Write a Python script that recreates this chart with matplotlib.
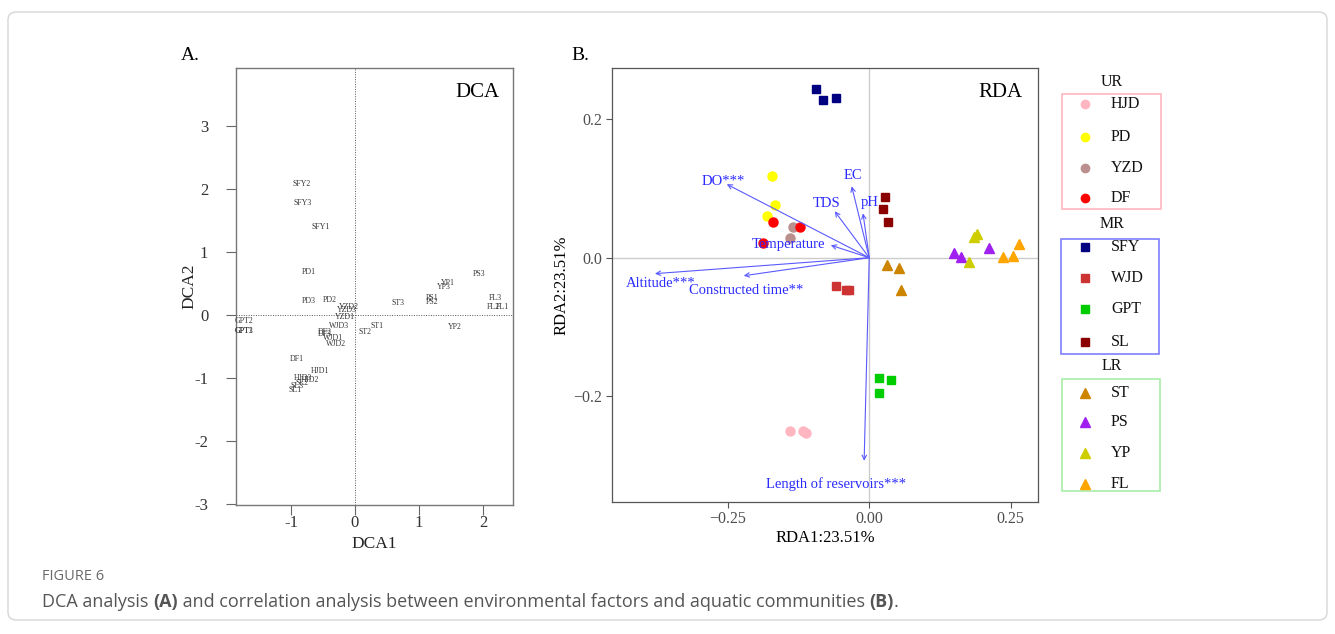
import matplotlib
matplotlib.use('Agg')
import matplotlib.pyplot as plt
from matplotlib.patches import Rectangle, FancyBboxPatch

plt.rcParams['font.family'] = ['Liberation Serif', 'DejaVu Serif']

# ---------------- DATA ----------------
# DCA sample scores
dca_samples = ['SFY1', 'SFY2', 'SFY3', 'PD1', 'PD2', 'PD3', 'YZD1', 'YZD2', 'YZD3',
               'GPT1', 'GPT2', 'GPT3', 'WJD1', 'WJD2', 'WJD3', 'DF1', 'DF2', 'DF3',
               'HJD1', 'HJD2', 'HJD3', 'SL1', 'SL2', 'SL3',
               'ST1', 'ST2', 'ST3', 'PS1', 'PS2', 'PS3', 'YP1', 'YP2', 'YP3', 'FL1', 'FL2', 'FL3']
dca1 = [-0.53, -0.83, -0.82, -0.72, -0.39, -0.72, -0.16, -0.10, -0.13,
        -1.74, -1.74, -1.73, -0.34, -0.30, -0.245, -0.91, -0.48, -0.47,
        -0.54, -0.70, -0.81, -0.94, -0.83, -0.91,
        0.34, 0.16, 0.67, 1.20, 1.20, 1.94, 1.45, 1.56, 1.39, 2.31, 2.16, 2.19]
dca2 = [1.39, 2.08, 1.78, 0.68, 0.24, 0.22, -0.03, 0.13, 0.07,
        -0.26, -0.10, -0.25, -0.37, -0.465, -0.185, -0.70, -0.28, -0.30,
        -0.89, -1.04, -1.00, -1.20, -1.08, -1.13,
        -0.17, -0.27, 0.19, 0.27, 0.21, 0.65, 0.51, -0.19, 0.44, 0.13, 0.13, 0.27]

# RDA site scores (replicates per reservoir)
rda_sites = ['HJD', 'PD', 'YZD', 'DF', 'SFY', 'WJD', 'GPT', 'SL', 'ST', 'PS', 'YP', 'FL']
rda_region = ['UR', 'UR', 'UR', 'UR', 'MR', 'MR', 'MR', 'MR', 'LR', 'LR', 'LR', 'LR']
rda1 = [[-0.140, -0.117, -0.112], [-0.172, -0.167, -0.181], [-0.135, -0.140],
        [-0.170, -0.123, -0.188], [-0.094, -0.082, -0.059], [-0.059, -0.041, -0.036],
        [0.017, 0.038, 0.017], [0.028, 0.024, 0.033], [0.031, 0.052, 0.056],
        [0.150, 0.163, 0.212], [0.190, 0.186, 0.177], [0.236, 0.255, 0.265]]
rda2 = [[-0.250, -0.250, -0.253], [0.118, 0.076, 0.060], [0.045, 0.029],
        [0.051, 0.045, 0.021], [0.243, 0.227, 0.230], [-0.041, -0.046, -0.047],
        [-0.173, -0.176, -0.195], [0.087, 0.071, 0.052], [-0.010, -0.015, -0.046],
        [0.007, 0.001, 0.014], [0.034, 0.030, -0.006], [0.001, 0.002, 0.020]]
site_colors = ['#FFB6C1', '#FFFF00', '#BC8F8F', '#FF0000', '#000080', '#CD3333',
               '#00CD00', '#8B0000', '#CD8500', '#A020F0', '#CDCD00', '#FFA500']
region_markers = {'UR': 'o', 'MR': 's', 'LR': '^'}
region_box_colors = {'UR': '#FFB6C1', 'MR': '#7F7FFF', 'LR': '#A8EEA8'}

# Environmental factor vectors
env_names = ['DO***', 'EC', 'TDS', 'pH', 'Temperature', 'Altitude***',
             'Constructed time**', 'Length of reservoirs***']
env_rda1 = [-0.252, -0.031, -0.061, -0.011, -0.068, -0.379, -0.222, -0.009]
env_rda2 = [0.106, 0.103, 0.067, 0.064, 0.018, -0.023, -0.026, -0.293]
# label anchor positions (layout)
env_lab_x = [-0.259, -0.029, -0.075, 0.0, -0.142, -0.368, -0.217, -0.059]
env_lab_y = [0.110, 0.118, 0.078, 0.079, 0.019, -0.037, -0.048, -0.327]

# ---------------- FIGURE ----------------
W, H = 1335, 634
fig = plt.figure(figsize=(W / 100, H / 100), dpi=100)

# overlay axes in pixel coordinates for frame, legend, caption
ov = fig.add_axes([0, 0, 1, 1], zorder=-1)
ov.set_xlim(0, W)
ov.set_ylim(H, 0)
ov.axis('off')
ov.add_patch(FancyBboxPatch((8, 12), 1319, 608, boxstyle='round,pad=0,rounding_size=8',
                            fill=False, ec='#D6D6D6', lw=1.0))

# ---------- Panel A: DCA ----------
axA = fig.add_axes([236 / W, 1 - 505 / H, 277 / W, 437 / H])
axA.set_xlim(-1.86, 2.47)
axA.set_ylim(-3.02, 3.92)
axA.axvline(0, color='#555555', lw=0.7, ls=(0, (1, 1.5)))
axA.axhline(0, color='#555555', lw=0.7, ls=(0, (1, 1.5)))
for name, x, y in zip(dca_samples, dca1, dca2):
    axA.text(x, y, name, fontsize=5.7, ha='center', va='center', color='#333333')
axA.set_xticks([-1, 0, 1, 2])
axA.set_xticklabels(['-1', '0', '1', '2'])
axA.set_yticks([-3, -2, -1, 0, 1, 2, 3])
axA.set_yticklabels(['-3', '-2', '-1', '0', '1', '2', '3'])
axA.tick_params(direction='out', length=7, width=0.8, color='#666666',
                labelsize=12, labelcolor='#333333')
axA.tick_params(axis='x', pad=0)
axA.tick_params(axis='y', pad=13)
for s in axA.spines.values():
    s.set_color('#777777')
    s.set_linewidth(1.0)
axA.set_xlabel('DCA1', fontsize=12.5, color='#222222', labelpad=4)
axA.set_ylabel('DCA2', fontsize=12.5, color='#222222', labelpad=-2)
axA.text(0.95, 0.965, 'DCA', transform=axA.transAxes, fontsize=15, ha='right', va='top')
ov.text(190, 56, 'A.', fontsize=14, ha='center', va='center')

# ---------- Panel B: RDA ----------
axB = fig.add_axes([612 / W, 1 - 501.7 / H, 425.7 / W, 433.7 / H])
axB.set_xlim(-0.455, 0.298)
axB.set_ylim(-0.352, 0.2737)
axB.axvline(0, color='#CCCCCC', lw=1.0, zorder=0)
axB.axhline(0, color='#CCCCCC', lw=1.0, zorder=0)
for site, reg, xs, ys, c in zip(rda_sites, rda_region, rda1, rda2, site_colors):
    m = region_markers[reg]
    ms = {'o': 6.5, 's': 6.3, '^': 7}[m]
    axB.plot(xs, ys, ls='none', marker=m, ms=ms, color=c, mec=c, zorder=3)
arrow_col = '#5A5AFF'
for name, x, y, lx, ly in zip(env_names, env_rda1, env_rda2, env_lab_x, env_lab_y):
    axB.annotate('', xy=(x, y), xytext=(0, 0),
                 arrowprops=dict(arrowstyle='->', color=arrow_col, lw=0.8,
                                 shrinkA=0, shrinkB=0, mutation_scale=8), zorder=4)
    axB.text(lx, ly, name, fontsize=10.5, color='#2B2BFF', ha='center', va='center', zorder=5)
axB.set_xticks([-0.25, 0.0, 0.25])
axB.set_xticklabels(['\u22120.25', '0.00', '0.25'])
axB.set_yticks([-0.2, 0.0, 0.2])
axB.set_yticklabels(['\u22120.2', '0.0', '0.2'])
axB.tick_params(direction='out', length=4, width=0.8, color='#555555',
                labelsize=11.5, labelcolor='#4D4D4D', pad=3)
for s in axB.spines.values():
    s.set_color('#555555')
    s.set_linewidth(0.9)
axB.set_xlabel('RDA1:23.51%', fontsize=12, labelpad=2)
axB.set_ylabel('RDA2:23.51%', fontsize=12, labelpad=3)
axB.text(0.965, 0.965, 'RDA', transform=axB.transAxes, fontsize=15, ha='right', va='top')
ov.text(580, 56, 'B.', fontsize=14, ha='center', va='center')

# ---------- Legend ----------
leg_boxes = {'UR': (1062, 94, 98.5, 115), 'MR': (1061, 238.5, 98, 115), 'LR': (1062, 378.5, 98, 112)}
leg_title_y = {'UR': 81.5, 'MR': 224.5, 'LR': 365.5}
leg_item_y = [104.3, 136.7, 167.7, 198.3, 246.7, 278.3, 309.3, 342.0, 392.7, 421.5, 453.3, 484.0]
for reg in ['UR', 'MR', 'LR']:
    x0, y0, w, h = leg_boxes[reg]
    ov.add_patch(Rectangle((x0, y0), w, h, fill=False, ec=region_box_colors[reg], lw=1.2))
    ov.text(1112, leg_title_y[reg], reg, fontsize=11.5, ha='center', va='center', color='#111111')
for site, reg, c, yy in zip(rda_sites, rda_region, site_colors, leg_item_y):
    m = region_markers[reg]
    ms = {'o': 6, 's': 5.5, '^': 6.5}[m]
    ov.plot([1085], [yy], ls='none', marker=m, ms=ms, color=c, mec=c)
    ov.text(1111, yy, site, fontsize=11.5, ha='left', va='center', color='#111111')

# ---------- Caption ----------
cap_font = ['Open Sans', 'DejaVu Sans']
ov.text(42, 577, 'FIGURE 6', fontsize=10.5, family=cap_font, color='#6A6A6A',
        ha='left', va='center')
pieces = [('DCA analysis ', 'normal'), ('(A)', 'bold'),
          (' and correlation analysis between environmental factors and aquatic communities ', 'normal'),
          ('(B)', 'bold'), ('.', 'normal')]
fig.canvas.draw()
renderer = fig.canvas.get_renderer()
xcur = 42
for txt, wt in pieces:
    t = ov.text(xcur, 602, txt, fontsize=13.0, family=cap_font, fontweight=wt,
                color='#555555', ha='left', va='center')
    bb = t.get_window_extent(renderer)
    xcur += bb.width

fig.savefig('out.png', dpi=100)
